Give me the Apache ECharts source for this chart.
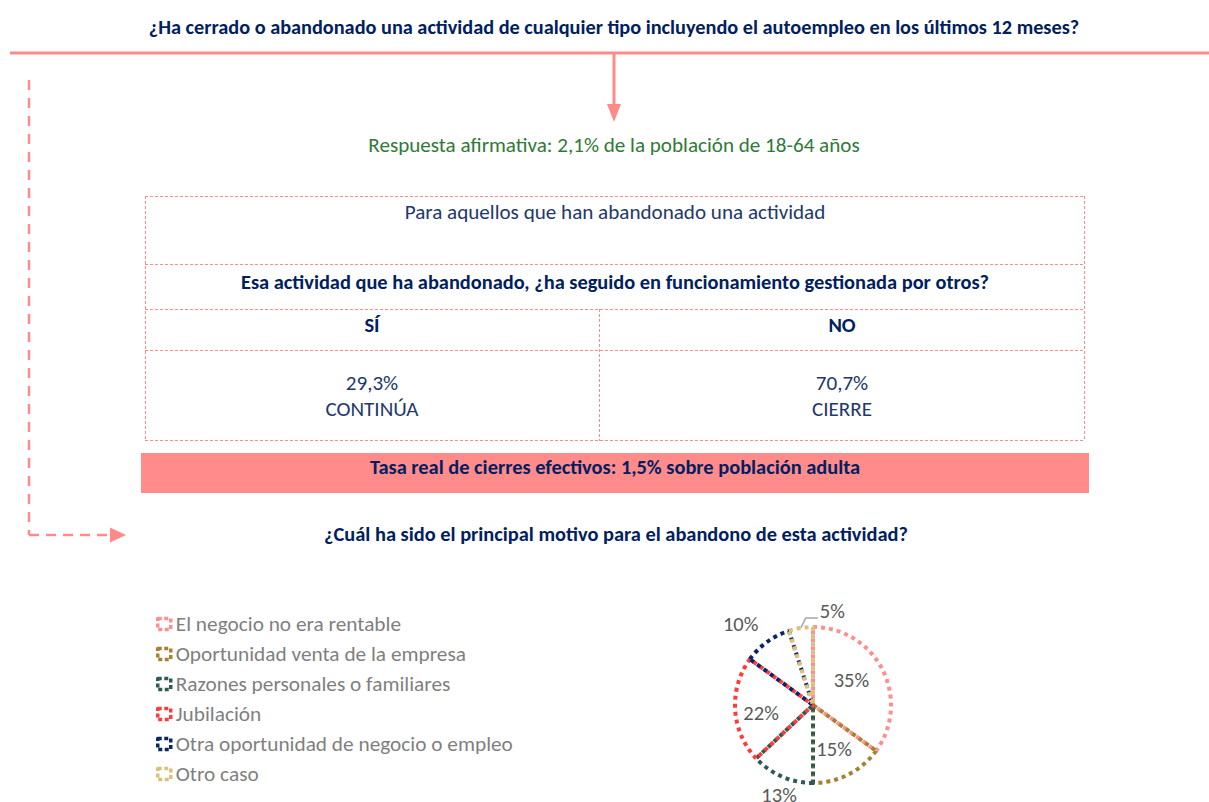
<!DOCTYPE html>
<html><head><meta charset="utf-8">
<script src="https://cdn.jsdelivr.net/npm/echarts@6/dist/echarts.min.js"></script>
<style>html,body{margin:0;padding:0;background:#fff}#c{width:1209px;height:802px}</style>
</head><body><div id="c"></div>
<script>
// ---- data ----
const mainQuestion = '¿Ha cerrado o abandonado una actividad de cualquier tipo incluyendo el autoempleo en los últimos 12 meses?';
const affirmativeText = 'Respuesta afirmativa: 2,1% de la población de 18-64 años';
const tableHeader = 'Para aquellos que han abandonado una actividad';
const tableQuestion = 'Esa actividad que ha abandonado, ¿ha seguido en funcionamiento gestionada por otros?';
const answerLabels = ['SÍ', 'NO'];
const answerValues = ['29,3%', '70,7%'];
const answerOutcomes = ['CONTINÚA', 'CIERRE'];
const effectiveRateText = 'Tasa real de cierres efectivos: 1,5% sobre población adulta';
const reasonQuestion = '¿Cuál ha sido el principal motivo para el abandono de esta actividad?';
const reasonCategories = ['El negocio no era rentable', 'Oportunidad venta de la empresa', 'Razones personales o familiares', 'Jubilación', 'Otra oportunidad de negocio o empleo', 'Otro caso'];
const reasonValues = [35, 15, 13, 22, 10, 5];

// ---- styles ----
const reasonColors = ['#FF8F8F', '#A6812F', '#2F5A55', '#FF3B3B', '#0B2466', '#DCC07E'];
const labelInside = [true, true, false, true, false, false];
const SALMON = '#FF8A8A', NAVY = '#002060', NAVY2 = '#22386B', GREEN = '#2F7A37', GREY = '#7F7F7F';
const FONT = 'Carlito, "Liberation Sans", sans-serif';
const REG = 21.1, BOLD = 20.4;

function txt(text, x, y, size, color, bold) {
  return { type: 'text', silent: true, style: { text: text, x: x, y: y, fontSize: size, fontFamily: FONT, fontWeight: bold ? 'bold' : 'normal', fill: color, align: 'center', verticalAlign: 'middle' } };
}
function ln(x1, y1, x2, y2, w, dash) {
  return { type: 'line', silent: true, shape: { x1: x1, y1: y1, x2: x2, y2: y2 }, style: { stroke: SALMON, lineWidth: w, lineDash: dash || null } };
}
const TD = [3, 2];
const graphics = [
  txt(mainQuestion, 614, 27, 20.3, NAVY, true),
  ln(10, 53, 1209, 53, 3),
  ln(614, 53, 614, 106, 3),
  { type: 'polygon', silent: true, shape: { points: [[607, 104], [621, 104], [614, 122]] }, style: { fill: SALMON } },
  txt(affirmativeText, 614, 145, REG, GREEN, false),
  ln(29, 80, 29, 535, 2.5, [10, 8]),
  ln(29, 535, 110, 535, 2.5, [10, 7]),
  { type: 'polygon', silent: true, shape: { points: [[110, 527.5], [110, 542.5], [126, 535]] }, style: { fill: SALMON } },
  // table
  ln(145, 196.5, 1085, 196.5, 1, TD),
  ln(145, 264.5, 1085, 264.5, 1, TD),
  ln(145, 309.5, 1085, 309.5, 1, TD),
  ln(145, 350.5, 1085, 350.5, 1, TD),
  ln(145, 440.5, 1085, 440.5, 1, TD),
  ln(145.5, 196, 145.5, 441, 1, TD),
  ln(1084.5, 196, 1084.5, 441, 1, TD),
  ln(599.5, 309, 599.5, 441, 1, TD),
  txt(tableHeader, 615, 212, REG, NAVY2, false),
  txt(tableQuestion, 615, 282, BOLD, NAVY, true),
  txt(answerLabels[0], 372, 325, BOLD, NAVY, true),
  txt(answerLabels[1], 842, 325, BOLD, NAVY, true),
  txt(answerValues[0], 372, 383, REG, NAVY2, false),
  txt(answerOutcomes[0], 372, 409, REG, NAVY2, false),
  txt(answerValues[1], 842, 383, REG, NAVY2, false),
  txt(answerOutcomes[1], 842, 409, REG, NAVY2, false),
  { type: 'rect', silent: true, shape: { x: 141, y: 453, width: 948, height: 40 }, style: { fill: '#FF8B8B' } },
  txt(effectiveRateText, 615, 467, BOLD, NAVY, true),
  txt(reasonQuestion, 616, 534, BOLD, NAVY, true)
];

const labelNudge = { 0: [1, -6], 1: [2, 7], 3: [-10, 5] };

const chart = echarts.init(document.getElementById('c'), null, { renderer: 'svg' });
chart.setOption({
  animation: false,
  graphic: { elements: graphics },
  legend: {
    orient: 'vertical', left: 156, top: 613.5, padding: 0,
    itemWidth: 13, itemHeight: 11, itemGap: 9, selectedMode: false, icon: 'rect',
    textStyle: { fontFamily: FONT, fontSize: 21.3, color: GREY, lineHeight: 21 },
    data: reasonCategories.map((n, i) => ({
      name: n,
      itemStyle: { color: 'rgba(255,255,255,0)', borderColor: reasonColors[i], borderWidth: 3.5, borderType: [4, 2.5] }
    }))
  },
  series: [{
    type: 'pie', center: [813, 705], radius: 78, startAngle: 90, clockwise: true,
    avoidLabelOverlap: false, emphasis: { disabled: true }, silent: true,
    label: { fontFamily: FONT, fontSize: 20.5, color: '#595959', formatter: p => Math.round(p.value) + '%' },
    labelLine: { length: 20, length2: 0, lineStyle: { color: '#A6A6A6', width: 1.5 } },
    labelLayout: function (p) {
      const i = p.dataIndex;
      if (labelInside[i]) {
        const n = labelNudge[i] || [0, 0];
        return { dx: n[0], dy: n[1] };
      }
      const pts = p.labelLinePoints;
      if (!pts) return {};
      if (i === 2) return { x: pts[1][0] + 5, y: pts[1][1], align: 'center', verticalAlign: 'middle' };
      if (i === 4) return { x: pts[1][0] + 3, y: pts[1][1] - 2, align: 'right', verticalAlign: 'middle' };
      const p1 = pts[0];
      return { x: p1[0] + 19, y: p1[1] - 17, align: 'left', verticalAlign: 'middle',
        labelLinePoints: [p1, [p1[0] + 5, p1[1] - 10], [p1[0] + 17, p1[1] - 10]] };
    },
    data: reasonCategories.map((n, i) => ({
      name: n, value: reasonValues[i],
      itemStyle: { color: 'rgba(255,255,255,0)', borderColor: reasonColors[i], borderWidth: 4, borderType: [4, 4] },
      label: { position: labelInside[i] ? 'inside' : 'outside' },
      labelLine: { show: !labelInside[i], lineStyle: { opacity: i === 5 ? 1 : 0 } }
    }))
  }]
});
</script></body></html>
